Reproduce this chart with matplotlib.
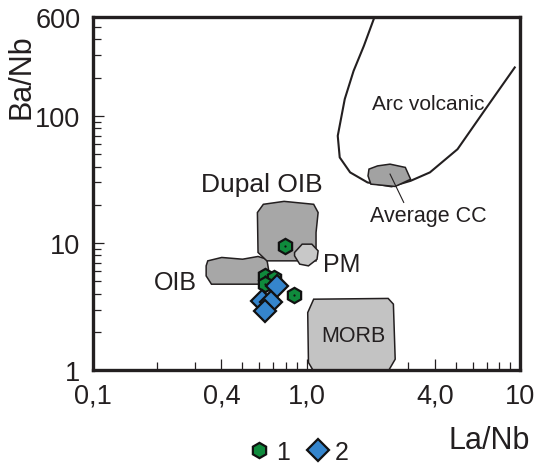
import matplotlib
matplotlib.use('Agg')
import matplotlib.pyplot as plt
from matplotlib.patches import Polygon
from matplotlib.ticker import FixedLocator, FixedFormatter, LogLocator, NullFormatter

plt.rcParams['font.family'] = ['Liberation Sans', 'DejaVu Sans']

INK = '#231f20'

# Field outlines in (La/Nb, Ba/Nb)
arc_x = [2.08, 1.855, 1.66, 1.51, 1.40, 1.43, 1.60, 1.93, 2.50, 3.07, 3.78, 5.09, 6.87, 9.43]
arc_y = [600, 356, 226, 136, 69.8, 47.2, 36.0, 30.0, 27.9, 30.9, 36.0, 54.8, 113, 241]

cc_x = [1.96, 2.15, 2.46, 2.90, 3.07, 2.60, 2.00, 1.94]
cc_y = [38.2, 40.5, 41.8, 39.4, 31.8, 27.9, 29.1, 33.8]

dupal_x = [0.628, 0.785, 0.879, 1.08, 1.133, 1.108, 1.108, 0.652, 0.593, 0.589]
dupal_y = [20.2, 21.3, 20.9, 20.2, 17.4, 12.1, 7.25, 7.25, 8.44, 17.4]

oib_x = [0.345, 0.401, 0.502, 0.593, 0.652, 0.664, 0.652, 0.359, 0.339, 0.339]
oib_y = [7.25, 7.71, 7.47, 7.85, 7.47, 6.23, 4.75, 4.75, 5.52, 6.62]

pm_x = [0.879, 0.954, 1.059, 1.133, 1.12, 1.021, 0.929, 0.879]
pm_y = [8.44, 9.81, 9.81, 8.69, 7.47, 6.62, 6.83, 7.94]

morb_x = [1.08, 2.41, 2.55, 2.60, 2.41, 1.08, 1.021, 1.013]
morb_y = [3.62, 3.67, 3.31, 1.22, 0.98, 0.98, 1.15, 2.84]

# Samples
grp1_x = [0.791, 0.640, 0.702, 0.640, 0.872]
grp1_y = [9.51, 5.52, 5.36, 4.75, 3.89]
grp2_x = [0.725, 0.619, 0.680, 0.640]
grp2_y = [4.61, 3.51, 3.41, 2.93]

xticks = [0.1, 0.4, 1.0, 4.0, 10]
xticklabels = ['0,1', '0,4', '1,0', '4,0', '10']
yticks = [1, 10, 100, 600]
yticklabels = ['1', '10', '100', '600']

fig = plt.figure(figsize=(5.43, 4.64), dpi=100)
ax = fig.add_axes([0.171, 0.200, 0.787, 0.761])
ax.set_xscale('log')
ax.set_yscale('log')
ax.set_xlim(0.1, 10)
ax.set_ylim(1, 600)


def field(xs, ys, color, z):
    ax.add_patch(Polygon(list(zip(xs, ys)), closed=True, facecolor=color,
                         edgecolor=INK, linewidth=1.1, zorder=z))


field(oib_x, oib_y, '#a7a7a7', 2)
field(dupal_x, dupal_y, '#a7a7a7', 2)
field(pm_x, pm_y, '#c8c8c8', 3)
field(morb_x, morb_y, '#c3c3c3', 2)
field(cc_x, cc_y, '#a2a2a2', 3)
ax.plot(arc_x, arc_y, color=INK, lw=1.5, zorder=2)
ax.plot([2.46, 2.85], [34.9, 20.9], color=INK, lw=0.8, zorder=4)

ax.plot(grp1_x, grp1_y, 'h', ms=11, mfc='#0f8a3c', mec='#111111', mew=1.6,
        ls='none', zorder=5)
ax.plot(grp1_x, grp1_y, 'o', ms=1.6, mfc='#111111', mec='none', ls='none', zorder=5)
ax.plot(grp2_x, grp2_y, 'D', ms=11, mfc='#3585cc', mec='#111111', mew=1.6,
        ls='none', zorder=6)

ax.text(3.71, 126, 'Arc volcanic', fontsize=15, color=INK, ha='center', va='center')
ax.text(3.71, 16.4, 'Average CC', fontsize=15.5, color=INK, ha='center', va='center')
ax.text(0.617, 29.1, 'Dupal OIB', fontsize=19, color=INK, ha='center', va='center')
ax.text(1.455, 6.83, 'PM', fontsize=18, color=INK, ha='center', va='center')
ax.text(0.244, 4.90, 'OIB', fontsize=18, color=INK, ha='center', va='center')
ax.text(1.66, 1.86, 'MORB', fontsize=15.5, color=INK, ha='center', va='center')

ax.xaxis.set_major_locator(FixedLocator(xticks))
ax.xaxis.set_major_formatter(FixedFormatter(xticklabels))
ax.xaxis.set_minor_locator(LogLocator(base=10, subs=[2, 3, 5, 6, 7, 8, 9]))
ax.xaxis.set_minor_formatter(NullFormatter())
ax.yaxis.set_major_locator(FixedLocator(yticks))
ax.yaxis.set_major_formatter(FixedFormatter(yticklabels))
ax.yaxis.set_minor_locator(LogLocator(base=10, subs=[2, 3, 4, 5, 6, 7, 8, 9]))
ax.yaxis.set_minor_formatter(NullFormatter())

ax.tick_params(which='both', direction='in', color=INK, width=0.9,
               labelsize=19.5, labelcolor=INK, top=False, right=False)
ax.tick_params(which='major', length=8, pad=9)
ax.tick_params(which='minor', length=6)
for sp in ax.spines.values():
    sp.set_linewidth(2.4)
    sp.set_color(INK)

fig.text(0.90, 0.05, 'La/Nb', fontsize=22, color=INK, ha='center', va='center')
fig.text(0.04, 0.834, 'Ba/Nb', fontsize=22, color=INK, ha='center', va='center',
         rotation=90)

# legend row under the axis
h1, = ax.plot([], [], 'h', ms=11, mfc='#0f8a3c', mec='#111111', mew=1.6, ls='none')
h2, = ax.plot([], [], 'D', ms=11, mfc='#3585cc', mec='#111111', mew=1.6, ls='none')
fig.legend([h1, h2], ['1', '2'], loc='center', bbox_to_anchor=(0.548, 0.024),
           ncol=2, frameon=False, fontsize=18, handletextpad=0.2,
           columnspacing=0.6, handlelength=1.0, labelcolor=INK)

fig.savefig('out.png', dpi=100)
